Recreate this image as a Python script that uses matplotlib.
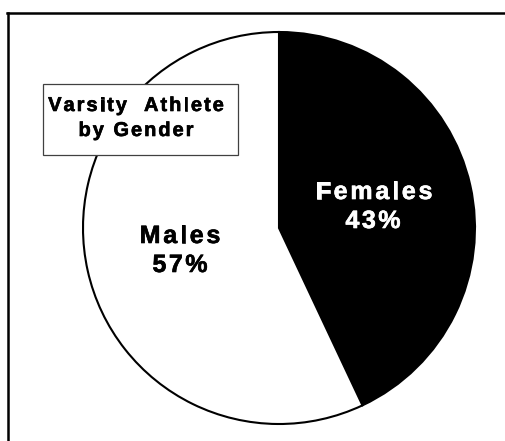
import matplotlib
matplotlib.use('Agg')
import matplotlib.pyplot as plt
import matplotlib.patheffects as pe
from matplotlib.patches import Rectangle
from matplotlib.lines import Line2D
from matplotlib.font_manager import FontProperties, findfont
from matplotlib.ft2font import FT2Font

# ---- data ----
categories = ['Females', 'Males']
shares = [43, 57]
slice_colors = ['black', 'white']
label_colors = ['white', 'black']
title_lines = ['Varsity  Athlete', 'by Gender']

W, H = 506, 441
DPI = 100
fig = plt.figure(figsize=(W / DPI, H / DPI), dpi=DPI)
ax = fig.add_axes([0, 0, 1, 1])

cx, cy, r = 279, H - 228, 196
ax.pie(shares, colors=slice_colors, startangle=90, counterclock=False,
       center=(cx, cy), radius=r,
       wedgeprops=dict(edgecolor='black', linewidth=1.5))
ax.set_xlim(0, W)
ax.set_ylim(0, H)
ax.set_aspect('auto')
ax.axis('off')

FONT = 'Liberation Sans'


def tracked(xc, y_img, s, size, color, track, z=5):
    fp = FontProperties(family=FONT, weight='bold', size=size)
    font = FT2Font(findfont(fp))
    font.set_size(size, DPI)
    adv = []
    for ch in s:
        g = font.load_char(ord(ch))
        adv.append(g.linearHoriAdvance / 65536.0)
    total = sum(adv) + track * (len(s) - 1)
    x = xc - total / 2
    for ch, a in zip(s, adv):
        if ch != ' ':
            ax.text(x, H - y_img, ch, fontproperties=fp, color=color,
                    ha='left', va='baseline', zorder=z,
                    path_effects=[pe.withStroke(linewidth=0.45,
                                                foreground=color)])
        x += a + track


# frame lines (only top and left are visible in the picture)
fig.add_artist(Line2D([8.4 / W, 8.4 / W], [0, 1 - 13.3 / H],
                      transform=fig.transFigure, color='black', lw=1.8))
fig.add_artist(Line2D([7.5 / W, 1], [1 - 13.3 / H, 1 - 13.3 / H],
                      transform=fig.transFigure, color='black', lw=1.8))

# title box
ax.add_patch(Rectangle((43, H - 155), 195, 71, facecolor='white',
                       edgecolor='#404040', linewidth=0.9, zorder=4))
tracked(136, 111, title_lines[0], 14.4, 'black', 2.0)
tracked(136, 136, title_lines[1], 14.4, 'black', 2.0)

# slice labels
tracked(374, 199, categories[0], 18, label_colors[0], 2.8)
tracked(373, 228, f'{shares[0]}%', 18, label_colors[0], 2.5)
tracked(180, 243, categories[1], 18, label_colors[1], 2.8)
tracked(180, 272, f'{shares[1]}%', 18, label_colors[1], 2.5)

fig.savefig('out.png', dpi=DPI)
